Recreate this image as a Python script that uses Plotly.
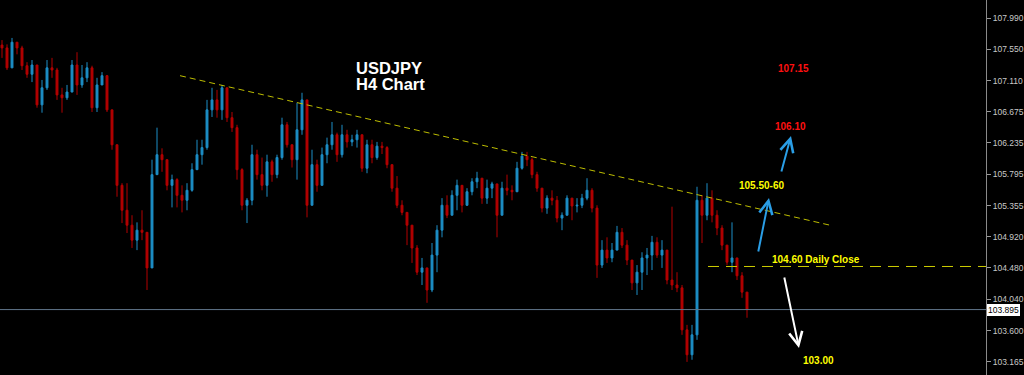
import plotly.graph_objects as go

# ---------------- data (USDJPY H4) ----------------
first_open = 107.61
closes = [
    107.57, 107.29, 107.65, 107.57, 107.32, 107.20, 107.33, 106.77, 107.01, 107.29,
    107.26, 106.91, 106.87, 106.95, 107.33, 107.05, 107.15, 107.29, 106.73, 107.05,
    107.18, 106.70, 106.21, 105.64, 105.29, 105.08, 104.87, 105.01, 104.98, 104.48,
    105.79, 106.07, 106.00, 105.64, 105.72, 105.50, 105.43, 105.57, 105.86, 106.07,
    106.17, 106.70, 106.84, 106.70, 107.01, 106.59, 106.45, 105.86, 105.36, 105.43,
    106.07, 105.79, 105.64, 105.97, 105.79, 106.03, 106.49, 106.21, 106.00, 106.42,
    106.84, 105.36, 105.93, 105.64, 106.07, 106.21, 106.35, 106.07, 106.35, 106.25,
    106.28, 106.35, 105.88, 106.21, 106.03, 106.19, 106.17, 105.93, 105.60, 105.36,
    105.26, 105.08, 104.76, 104.42, 104.48, 104.17, 104.66, 105.01, 105.36, 105.22,
    105.50, 105.64, 105.36, 105.55, 105.69, 105.74, 105.46, 105.60, 105.66, 105.22,
    105.60, 105.57, 105.55, 105.88, 106.05, 106.00, 105.79, 105.60, 105.32, 105.46,
    105.43, 105.18, 105.22, 105.46, 105.35, 105.36, 105.46, 105.57, 105.32, 104.52,
    104.73, 104.62, 104.73, 104.98, 104.80, 104.59, 104.27, 104.42, 104.62, 104.66,
    104.84, 104.66, 104.73, 104.31, 104.24, 104.20, 103.61, 103.26, 103.54, 105.43,
    105.22, 105.46, 105.22, 105.04, 104.80, 104.56, 104.62, 104.37, 104.14, 103.895,
]
highs = [
    107.68, 107.62, 107.71, 107.65, 107.60, 107.37, 107.40, 107.33, 107.12, 107.40,
    107.43, 107.29, 107.01, 107.05, 107.40, 107.51, 107.33, 107.37, 107.32, 107.15,
    107.23, 107.19, 106.63, 106.16, 105.67, 105.67, 105.22, 105.12, 105.29, 104.94,
    106.00, 106.45, 106.16, 106.00, 105.79, 105.74, 105.64, 105.67, 105.95, 106.28,
    106.28, 106.84, 107.01, 106.98, 107.05, 107.01, 106.67, 106.49, 105.88, 105.46,
    106.21, 106.14, 106.03, 106.07, 106.00, 106.07, 106.59, 106.53, 106.21, 106.80,
    106.94, 106.84, 106.14, 106.00, 106.17, 106.31, 106.53, 106.38, 106.49, 106.42,
    106.35, 106.42, 106.35, 106.28, 106.28, 106.25, 106.25, 106.19, 105.93, 105.77,
    105.43, 105.15, 105.04, 104.80, 104.62, 104.45, 104.83, 105.08, 105.46, 105.50,
    105.57, 105.72, 105.64, 105.60, 105.74, 105.83, 105.74, 105.72, 105.69, 105.57,
    105.69, 105.79, 105.64, 105.97, 106.11, 106.11, 106.03, 105.83, 105.60, 105.50,
    105.57, 105.49, 105.26, 105.50, 105.43, 105.46, 105.52, 105.74, 105.60, 105.36,
    104.87, 104.91, 104.83, 105.07, 105.04, 104.87, 104.59, 104.52, 104.70, 104.76,
    104.93, 104.91, 104.87, 104.66, 105.34, 104.42, 104.24, 103.68, 103.68, 105.62,
    105.50, 105.67, 105.57, 105.29, 105.08, 104.80, 105.12, 104.62, 104.42, 104.14,
]
lows = [
    107.43, 107.26, 107.34, 107.48, 107.26, 107.15, 107.09, 106.73, 106.66, 106.98,
    107.15, 106.84, 106.66, 106.84, 106.95, 106.91, 107.01, 107.09, 106.67, 106.67,
    107.06, 106.67, 106.14, 105.48, 105.11, 104.97, 104.76, 104.73, 104.87, 104.17,
    104.48, 105.79, 105.83, 105.57, 105.33, 105.33, 105.26, 105.29, 105.55, 105.86,
    105.93, 106.14, 106.60, 106.59, 106.56, 106.53, 106.39, 105.72, 105.29, 105.11,
    105.36, 105.72, 105.57, 105.48, 105.69, 105.74, 106.00, 106.17, 105.89, 105.72,
    106.35, 105.19, 105.36, 105.55, 105.64, 105.95, 106.14, 105.97, 106.03, 106.17,
    106.19, 106.17, 105.83, 105.81, 105.95, 106.00, 106.08, 105.88, 105.55, 105.32,
    105.22, 104.80, 104.55, 104.38, 104.24, 103.99, 104.14, 104.42, 104.91, 105.18,
    105.22, 105.29, 105.26, 105.35, 105.50, 105.60, 105.38, 105.38, 105.46, 104.91,
    105.22, 105.50, 105.43, 105.57, 105.86, 105.91, 105.74, 105.55, 105.26, 105.24,
    105.36, 105.12, 105.01, 105.22, 105.15, 105.26, 105.32, 105.43, 105.26, 104.34,
    104.48, 104.55, 104.56, 104.73, 104.76, 104.52, 104.17, 104.10, 104.17, 104.38,
    104.45, 104.62, 104.48, 104.25, 104.17, 104.14, 103.54, 103.16, 103.19, 103.47,
    104.83, 105.15, 105.12, 104.94, 104.73, 104.52, 104.42, 104.31, 104.06, 103.78,
]
opens = [first_open] + closes[:-1]
bars = list(range(len(closes)))

tick_vals = [107.990, 107.550, 107.110, 106.675, 106.235, 105.795,
             105.355, 104.920, 104.480, 104.040, 103.600, 103.165]
tick_text = ["%.3f" % v for v in tick_vals]

trend_x = [35.6, 165.6]          # bar index
trend_y = [107.18, 105.08]
daily_close_x = [141.2, 196.8]
daily_close_y = [104.50, 104.50]

title_lines = ["USDJPY", "H4 Chart"]
level_labels = ["107.15", "106.10", "105.50-60", "104.60 Daily Close", "103.00"]

# ---------------- figure ----------------
BLUE = "#1d8ec6"
RED = "#b30000"

hi = [max(h, o, c) for h, o, c in zip(highs, opens, closes)]
lo = [min(l, o, c) for l, o, c in zip(lows, opens, closes)]

fig = go.Figure()
fig.add_trace(go.Candlestick(
    x=bars, open=opens, high=hi, low=lo, close=closes,
    increasing=dict(line=dict(color=BLUE, width=1), fillcolor=BLUE),
    decreasing=dict(line=dict(color=RED, width=1), fillcolor=RED),
    showlegend=False, hoverinfo="skip",
))

# current price line
last = closes[-1]
fig.add_trace(go.Scatter(
    x=[-0.4, 196.8], y=[last, last], mode="lines",
    line=dict(color="#5f7589", width=1), showlegend=False, hoverinfo="skip",
))
# trend line
fig.add_trace(go.Scatter(
    x=trend_x, y=trend_y, mode="lines",
    line=dict(color="#bdbd00", width=1, dash="6px,4px"),
    showlegend=False, hoverinfo="skip",
))
# daily close line
fig.add_trace(go.Scatter(
    x=daily_close_x, y=daily_close_y, mode="lines",
    line=dict(color="#cccc00", width=1, dash="11px,7px"),
    showlegend=False, hoverinfo="skip",
))

W = 986.0
H = 375.0

def px(xp, yp):
    return xp / W, 1 - yp / H

ann = []
for txt, (cx, cy) in zip(title_lines, [(389, 68), (390, 84)]):
    x, y = px(cx, cy)
    ann.append(dict(x=x, y=y, xref="paper", yref="paper", text="<b>%s</b>" % txt,
                    showarrow=False, font=dict(family="Liberation Sans, Arial", size=16.5, color="white"),
                    xanchor="center", yanchor="middle"))

label_pos = [(793, 69), (790, 126), (761, 185), (816, 259), (818, 360)]
label_col = ["#ff1010", "#ff1010", "#ffff00", "#ffff00", "#ffff00"]
for txt, (cx, cy), col in zip(level_labels, label_pos, label_col):
    x, y = px(cx, cy)
    ann.append(dict(x=x, y=y, xref="paper", yref="paper", text="<b>%s</b>" % txt,
                    showarrow=False, font=dict(family="Liberation Sans, Arial", size=10, color=col),
                    xanchor="center", yanchor="middle"))

arrows = [((769, 198), (-11, 55), "#2a9ee6"),
          ((791, 136), (-10, 37), "#2a9ee6"),
          ((799, 348), (-15, -72), "#ffffff")]
for (hx, hy), (ax, ay), col in arrows:
    x, y = px(hx, hy)
    ann.append(dict(x=x, y=y, xref="paper", yref="paper", text="", showarrow=True,
                    ax=ax, ay=ay, axref="pixel", ayref="pixel",
                    arrowhead=5, arrowsize=1.3, arrowwidth=2, arrowcolor=col, standoff=0))

# current price box on axis
ann.append(dict(x=1, y=last, xref="paper", yref="y", text="%.3f" % last,
                showarrow=False, xanchor="left", yanchor="middle", xshift=1,
                font=dict(family="Liberation Sans, Arial", size=8.5, color="black"),
                bgcolor="white", borderpad=0, borderwidth=1, bordercolor="white"))

fig.update_layout(
    width=1024, height=375,
    margin=dict(l=0, r=38, t=0, b=0, autoexpand=False),
    paper_bgcolor="black", plot_bgcolor="black",
    boxgap=0.45,
    annotations=ann,
    xaxis=dict(range=[-0.4, 196.8], visible=False, rangeslider=dict(visible=False),
               fixedrange=True),
    yaxis=dict(range=[102.976, 108.243], side="right", showgrid=False, zeroline=False,
               automargin=False,
               tickvals=tick_vals, ticktext=tick_text, ticks="outside", ticklen=4,
               tickcolor="#9a9a9a", showline=True, linecolor="#8a8a8a", linewidth=1,
               tickfont=dict(family="Liberation Sans, Arial", size=8.5, color="#c8c8c8"),
               fixedrange=True),
)

fig.write_html("out.html",
               config={"displayModeBar": False},
               post_script="document.body.style.margin='0px';document.body.style.overflow='hidden';document.body.style.background='black';")
